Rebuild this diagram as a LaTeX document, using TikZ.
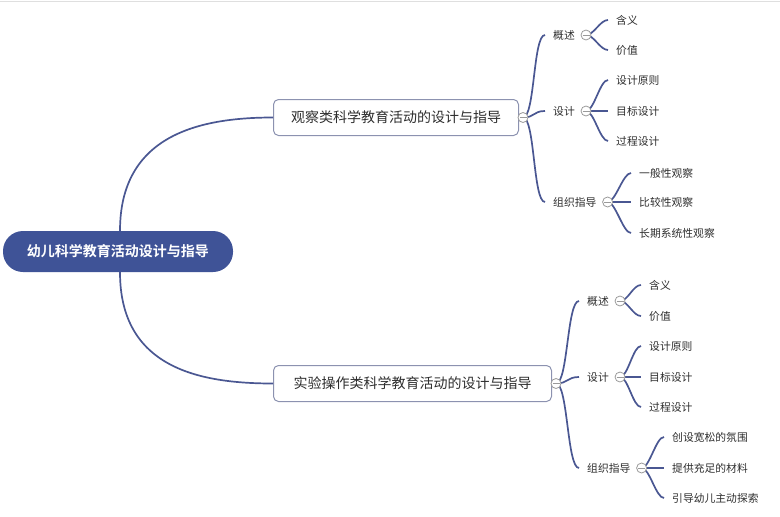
\documentclass[tikz,border=0pt]{standalone}
\usepackage{fontspec}
\setmainfont{Noto Sans CJK SC}[BoldFont={Noto Sans CJK SC Bold}]
\definecolor{rootc}{HTML}{3F5397}
\definecolor{linec}{HTML}{4A5792}
\definecolor{boxc}{HTML}{8C92B0}
\definecolor{foldc}{HTML}{9A9A9A}
\definecolor{txt}{HTML}{2E2E2E}
\tikzset{
  conn/.style={draw=linec, line width=1.7pt},
  lbl/.style={font=\fontsize{10.8}{13}\selectfont, text=txt, inner xsep=8pt, inner ysep=2pt, anchor=west},
  topic/.style={draw=boxc, line width=1pt, fill=white, rounded corners=5pt, font=\fontsize{14}{16}\selectfont, text=txt, minimum height=36pt, inner xsep=14pt, anchor=west},
  rootbox/.style={fill=rootc, rounded corners=20pt, font=\bfseries\fontsize{14}{16}\selectfont, text=white, minimum height=41pt, minimum width=230pt},
  fold/.style={circle, draw=foldc, fill=white, minimum size=10pt, inner sep=0pt, line width=0.8pt,
    path picture={\draw[foldc, line width=0.8pt] ([xshift=-3.5pt]path picture bounding box.center) -- ([xshift=3.5pt]path picture bounding box.center);}},
}
\begin{document}
\begin{tikzpicture}[x=1pt,y=-1pt]
\useasboundingbox (0,0) rectangle (780,517);
\draw[gray!25, line width=0.8pt] (0,1) -- (780,1);
% root and main topics
\node[rootbox] (root) at (118,251.5) {幼儿科学教育活动设计与指导};
\node[topic, minimum width=245pt] (b1) at (273,117.5) {观察类科学教育活动的设计与指导};
\node[topic, minimum width=278pt] (b2) at (273,383.5) {实验操作类科学教育活动的设计与指导};
% level 2 (upper)
\node[lbl] (a1) at (545,35) {概述};
\node[lbl] (a2) at (545,111) {设计};
\node[lbl] (a3) at (545,202) {组织指导};
% leaves (upper)
\node[lbl] (a11) at (608,20) {含义};
\node[lbl] (a12) at (608,50) {价值};
\node[lbl] (a21) at (608,80) {设计原则};
\node[lbl] (a22) at (608,111) {目标设计};
\node[lbl] (a23) at (608,141) {过程设计};
\node[lbl] (a31) at (631,173) {一般性观察};
\node[lbl] (a32) at (631,202) {比较性观察};
\node[lbl] (a33) at (631,233) {长期系统性观察};
% level 2 (lower)
\node[lbl] (c1) at (579,301) {概述};
\node[lbl] (c2) at (579,377) {设计};
\node[lbl] (c3) at (579,468) {组织指导};
% leaves (lower)
\node[lbl] (c11) at (641,285) {含义};
\node[lbl] (c12) at (641,316) {价值};
\node[lbl] (c21) at (641,346) {设计原则};
\node[lbl] (c22) at (641,377) {目标设计};
\node[lbl] (c23) at (641,407) {过程设计};
\node[lbl] (c31) at (664,437) {创设宽松的氛围};
\node[lbl] (c32) at (664,468) {提供充足的材料};
\node[lbl] (c33) at (664,498) {引导幼儿主动探索};
% fold circles
\coordinate (f1pos) at (523,117.5);
\coordinate (f2pos) at (556,383.5);
% connectors root -> topics
\draw[conn] ([xshift=2pt]root.north) .. controls +(0,-95) and +(-75,0) .. (b1.west);
\draw[conn] ([xshift=2pt]root.south) .. controls +(0,95) and +(-75,0) .. (b2.west);
% upper topic -> level 2
\foreach \t in {a1,a2,a3}
  \draw[conn] (f1pos) .. controls +(12,0) and +(-12,0) .. (\t.west);
\foreach \t in {a11,a12}
  \draw[conn] ([xshift=3pt]a1.east) .. controls +(8,0) and +(-8,0) .. (\t.west);
\foreach \t in {a21,a22,a23}
  \draw[conn] ([xshift=3pt]a2.east) .. controls +(8,0) and +(-8,0) .. (\t.west);
\foreach \t in {a31,a32,a33}
  \draw[conn] ([xshift=3pt]a3.east) .. controls +(8,0) and +(-8,0) .. (\t.west);
% lower topic -> level 2
\foreach \t in {c1,c2,c3}
  \draw[conn] (f2pos) .. controls +(12,0) and +(-12,0) .. (\t.west);
\foreach \t in {c11,c12}
  \draw[conn] ([xshift=3pt]c1.east) .. controls +(8,0) and +(-8,0) .. (\t.west);
\foreach \t in {c21,c22,c23}
  \draw[conn] ([xshift=3pt]c2.east) .. controls +(8,0) and +(-8,0) .. (\t.west);
\foreach \t in {c31,c32,c33}
  \draw[conn] ([xshift=3pt]c3.east) .. controls +(8,0) and +(-8,0) .. (\t.west);
% fold markers
\node[fold] (f1) at (f1pos) {};
\node[fold] (f2) at (f2pos) {};
\node[fold] (fa1) at ([xshift=3pt]a1.east) {};
\node[fold] (fa2) at ([xshift=3pt]a2.east) {};
\node[fold] (fa3) at ([xshift=3pt]a3.east) {};
\node[fold] (fc1) at ([xshift=3pt]c1.east) {};
\node[fold] (fc2) at ([xshift=3pt]c2.east) {};
\node[fold] (fc3) at ([xshift=3pt]c3.east) {};
\end{tikzpicture}
\end{document}
